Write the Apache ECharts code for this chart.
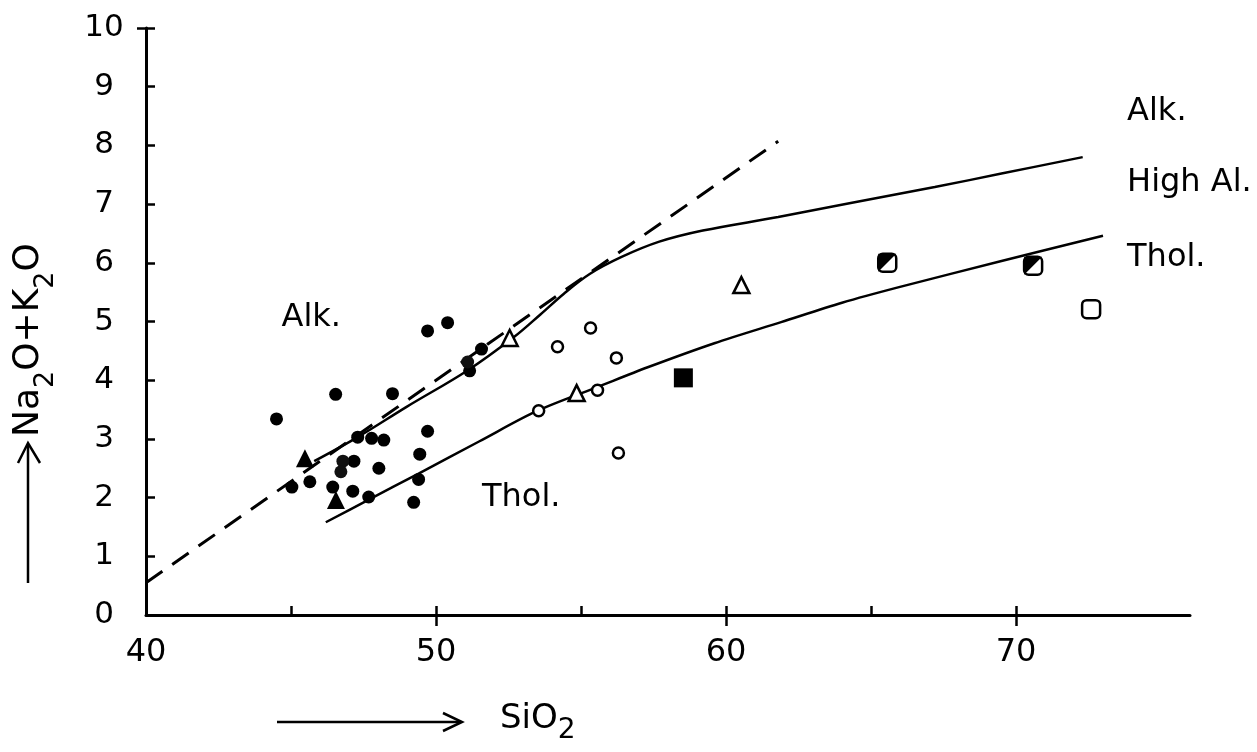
<!DOCTYPE html>
<html>
<head>
<meta charset="utf-8">
<script src="https://cdn.jsdelivr.net/npm/echarts@6/dist/echarts.min.js"></script>
<style>
  html, body { margin: 0; padding: 0; background: #fff; }
  #chart { width: 1257px; height: 752px; }
</style>
</head>
<body>
<div id="chart"></div>
<script>
// axis ranges and tick labels
const xMin = 40, xMax = 76
const yMin = 0, yMax = 10
const xLabelValues = [40, 50, 60, 70]
const xMajorTicks = [50, 60, 70]
const xMinorTicks = [45, 50, 55, 60, 65, 70]

// boundary lines [SiO2, Na2O+K2O]
const dashedLine = [[40, 0.55], [61.8, 8.07]]
const upperCurve = [
    [45.8, 2.62], [47.3, 3.03], [49.0, 3.55], [51.1, 4.17], [52.7, 4.74], [53.6, 5.12],
    [54.4, 5.47], [55.3, 5.81], [56.4, 6.10], [57.7, 6.36], [59.2, 6.55], [61.8, 6.78],
    [64.3, 7.02], [67.2, 7.29], [69.5, 7.52], [72.3, 7.80]
]
const lowerCurve = [
    [46.2, 1.58], [47.7, 1.97], [49.4, 2.41], [51.5, 2.96], [53.5, 3.48], [55.6, 3.89],
    [57.3, 4.22], [59.6, 4.63], [61.9, 4.99], [64.0, 5.32], [66.0, 5.59], [69.5, 6.03],
    [73.0, 6.46]
]

// samples
const filledCircles = [
    [44.5, 3.34], [46.54, 3.76], [48.5, 3.77], [49.71, 4.84], [50.4, 4.98], [51.57, 4.53],
    [51.16, 4.16], [47.3, 3.03], [47.78, 3.01], [48.2, 2.98], [49.71, 3.13], [47.17, 2.62],
    [48.03, 2.5], [49.44, 2.74], [49.4, 2.31], [45.03, 2.18], [45.65, 2.27], [46.44, 2.18],
    [47.13, 2.11], [47.68, 2.01], [49.23, 1.92]
]
const stippledCircles = [[46.79, 2.62], [46.72, 2.44], [51.09, 4.31]]
const filledTriangles = [[45.48, 2.67], [46.55, 1.96]]
const openCircles = [[55.33, 4.89], [54.19, 4.57], [56.22, 4.38], [55.57, 3.83], [53.54, 3.48], [56.29, 2.76]]
const openTriangles = [[52.54, 4.72], [54.85, 3.78], [60.53, 5.62]]
const filledSquares = [[58.53, 4.04]]
const halfSquares = [[65.56, 6.0], [70.59, 5.95]]
const openSquares = [[72.59, 5.21]]

// field names
const fieldLabels = [
    { name: 'Alk.', value: [45.7, 5.06], align: 'center' },
    { name: 'Thol.', value: [52.94, 1.99], align: 'center' },
    { name: 'Alk.', value: [73.83, 8.57], align: 'left' },
    { name: 'High Al.', value: [73.83, 7.36], align: 'left' },
    { name: 'Thol.', value: [73.83, 6.08], align: 'left' }
]

const font = 'DejaVu Sans'
const ink = '#000'

const chart = echarts.init(document.getElementById('chart'))

const scatter = (data, symbol, size, fill, border, z) => ({
    type: 'scatter',
    data: data,
    symbol: symbol,
    symbolSize: size,
    symbolKeepAspect: true,
    z: z || 3,
    itemStyle: { color: fill, borderColor: ink, borderWidth: border, opacity: 1 },
    emphasis: { disabled: true }
})

const line = (data, style, smooth) => ({
    type: 'line',
    data: data,
    showSymbol: false,
    smooth: smooth,
    z: 2,
    lineStyle: Object.assign({ color: ink, width: 2.5 }, style)
})

let option = {
    backgroundColor: '#fff',
    animation: false,
    grid: { left: 146, right: 67, top: 28, bottom: 137 },
    xAxis: [{
        type: 'value',
        min: xMin, max: xMax, interval: 5,
        axisLine: { show: true, lineStyle: { color: ink, width: 3 } },
        axisTick: { show: true, inside: true, length: 9, customValues: xMinorTicks, lineStyle: { color: ink, width: 2.5 } },
        axisLabel: { show: false },
        splitLine: { show: false }
    }, {
        type: 'value',
        position: 'bottom',
        min: xMin, max: xMax, interval: 10,
        axisLine: { show: false },
        axisTick: { show: true, inside: false, length: 11, customValues: xMajorTicks, lineStyle: { color: ink, width: 2.5 } },
        axisLabel: { show: true, customValues: xLabelValues, margin: 22, color: ink, fontFamily: font, fontSize: 32 },
        splitLine: { show: false }
    }],
    yAxis: [{
        type: 'value',
        min: yMin, max: yMax, interval: 1,
        axisLine: { show: true, onZero: false, lineStyle: { color: ink, width: 3 } },
        axisTick: { show: true, inside: true, length: 9, lineStyle: { color: ink, width: 2.5 } },
        axisLabel: { show: true, align: 'center', margin: 42, color: ink, fontFamily: font, fontSize: 31 },
        splitLine: { show: false }
    }, {
        type: 'value',
        position: 'left',
        min: yMin, max: yMax, interval: 1,
        axisLine: { show: false },
        axisTick: { show: true, inside: false, length: 9, customValues: [yMax], lineStyle: { color: ink, width: 2.5 } },
        axisLabel: { show: false },
        splitLine: { show: false }
    }],
    graphic: [
        // y axis title with arrow
        { type: 'line', shape: { x1: 28, y1: 583, x2: 28, y2: 445 }, style: { stroke: ink, lineWidth: 2.5 } },
        { type: 'polyline', shape: { points: [[18, 463], [28, 443], [40, 463]] }, style: { stroke: ink, lineWidth: 2.5, fill: null } },
        {
            type: 'text', x: 29, y: 437, rotation: Math.PI / 2,
            style: {
                text: '{m|Na}{s|2}{m|O+K}{s|2}{m|O}',
                align: 'left', verticalAlign: 'middle', fill: ink,
                rich: {
                    m: { fontFamily: font, fontSize: 36, lineHeight: 60, fill: ink },
                    s: { fontFamily: font, fontSize: 27, lineHeight: 27, verticalAlign: 'bottom', fill: ink }
                }
            }
        },
        // x axis title with arrow
        { type: 'line', shape: { x1: 277, y1: 722, x2: 460, y2: 722 }, style: { stroke: ink, lineWidth: 2.5 } },
        { type: 'polyline', shape: { points: [[443, 713], [462, 722], [443, 731]] }, style: { stroke: ink, lineWidth: 2.5, fill: null } },
        {
            type: 'text', x: 500, y: 719,
            style: {
                text: '{m|SiO}{s|2}',
                align: 'left', verticalAlign: 'middle', fill: ink,
                rich: {
                    m: { fontFamily: font, fontSize: 34, lineHeight: 52, fill: ink },
                    s: { fontFamily: font, fontSize: 28, lineHeight: 28, verticalAlign: 'bottom', fill: ink }
                }
            }
        }
    ],
    series: [
        line(dashedLine, { type: [20, 12], width: 3 }, false),
        line(upperCurve, {}, 0.35),
        line(lowerCurve, {}, 0.3),
        scatter(filledCircles, 'circle', 13, ink, 0),
        scatter(stippledCircles, 'circle', 13, '#111', 0),
        scatter(filledTriangles, 'triangle', 18, ink, 0),
        scatter(openCircles, 'circle', 11, '#fff', 2.5),
        scatter(openTriangles, 'triangle', 16, '#fff', 2.5),
        scatter(filledSquares, 'rect', 19, ink, 0),
        scatter(halfSquares, 'roundRect', 18, '#fff', 2.5),
        scatter(halfSquares, 'path://M0,0 L10,0 L0,10 Z', 18, ink, 0, 4),
        scatter(openSquares, 'roundRect', 18, '#fff', 2.5),
        {
            type: 'scatter',
            data: fieldLabels.map(d => ({
                name: d.name,
                value: d.value,
                label: { align: d.align }
            })),
            symbolSize: 0,
            z: 5,
            silent: true,
            itemStyle: { opacity: 1 },
            label: {
                show: true,
                position: 'inside',
                formatter: '{b}',
                color: ink,
                opacity: 1,
                fontFamily: font,
                fontSize: 32,
                verticalAlign: 'middle'
            }
        }
    ]
}

chart.setOption(option)
</script>
</body>
</html>
